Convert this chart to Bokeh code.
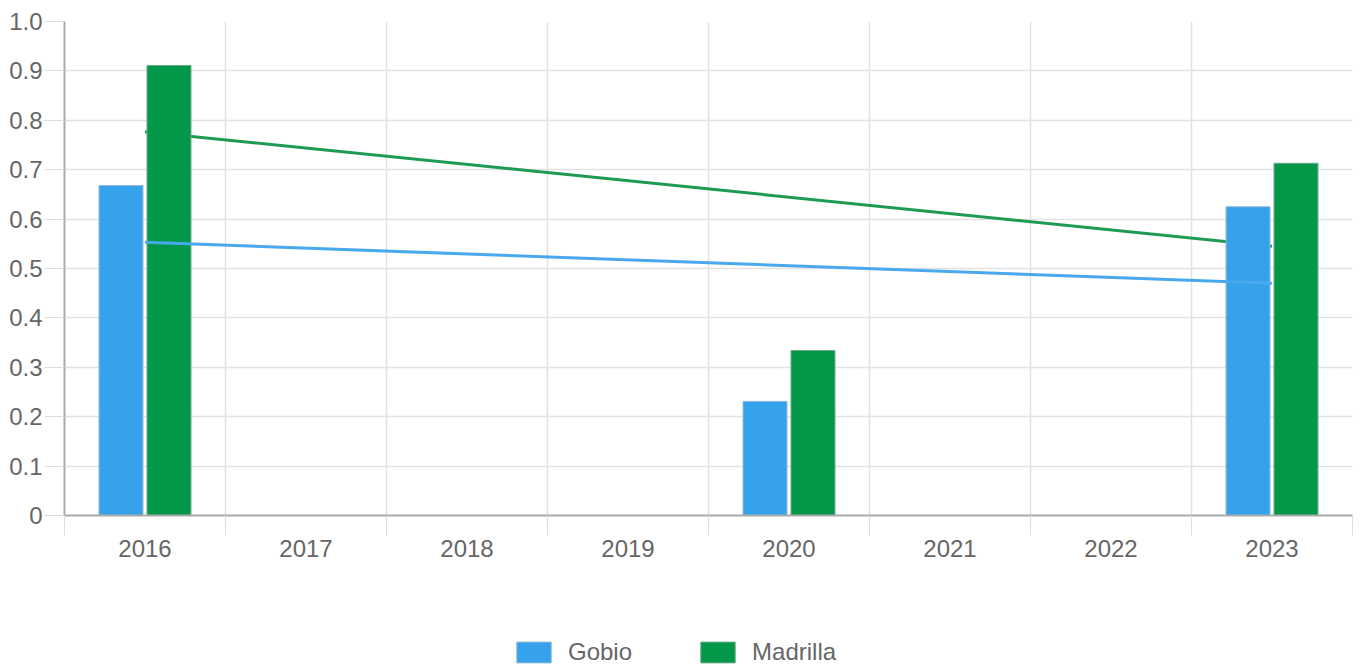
from bokeh.plotting import figure
from bokeh.layouts import column
from bokeh.models import FixedTicker, Legend, LegendItem, Range1d
from bokeh.embed import file_html
from bokeh.resources import INLINE

years = [2016, 2017, 2018, 2019, 2020, 2021, 2022, 2023]
bar_years = [2016, 2020, 2023]
gobio = [0.668, 0.231, 0.625]
madrilla = [0.911, 0.334, 0.713]
trend_years = [2016, 2023]
gobio_trend = [0.553, 0.470]
madrilla_trend = [0.777, 0.545]
y_ticks = [0, 0.1, 0.2, 0.3, 0.4, 0.5, 0.6, 0.7, 0.8, 0.9, 1.0]
y_tick_labels = ["0", "0.1", "0.2", "0.3", "0.4", "0.5", "0.6", "0.7", "0.8", "0.9", "1.0"]

BLUE = "#36a2eb"
GREEN = "#03974a"
FONT = "Liberation Sans"
TXT = "#666666"

p = figure(frame_width=1288, frame_height=494, output_backend="svg", toolbar_location=None,
           x_range=Range1d(years[0] - 0.5, years[-1] + 0.5), y_range=Range1d(0, 1.0),
           min_border_left=64, min_border_top=21, min_border_right=4, min_border_bottom=100)
p.outline_line_color = None

off = 0.149
bw = 0.273
gx = [y - off for y in bar_years]
mx = [y + off for y in bar_years]

p.line(trend_years, madrilla_trend, line_color="#1e9b52", line_width=3)
p.vbar(x=gx, top=gobio, width=bw, fill_color=BLUE, line_color="#8fb9d6", line_width=1)
p.vbar(x=mx, top=madrilla, width=bw, fill_color=GREEN, line_color="#6aa985", line_width=1)
p.line(trend_years, gobio_trend, line_color="#4aa9ee", line_width=3)

# axes
bounds = [y - 0.5 for y in years] + [years[-1] + 0.5]
p.xaxis.ticker = FixedTicker(ticks=years, minor_ticks=bounds)
p.xaxis.major_tick_out = 0
p.xaxis.major_tick_in = 0
p.xaxis.minor_tick_out = 20
p.xaxis.minor_tick_in = 0
p.xaxis.minor_tick_line_color = "#dddddd"
p.xaxis.major_label_standoff = 4
p.xgrid.ticker = FixedTicker(ticks=bounds)

p.yaxis.ticker = FixedTicker(ticks=y_ticks)
p.yaxis.major_label_overrides = dict(zip(y_ticks, y_tick_labels))
p.yaxis.major_tick_out = 20
p.yaxis.major_tick_in = 0
p.yaxis.minor_tick_line_color = None
p.yaxis.major_tick_line_color = "#dddddd"
p.yaxis.major_label_standoff = 2

for ax in (p.xaxis, p.yaxis):
    ax.axis_line_color = "#aaaaaa"
    ax.axis_line_width = 2
    ax.major_label_text_font = FONT
    ax.major_label_text_font_size = "24px"
    ax.major_label_text_color = TXT

p.xgrid.grid_line_color = "#e2e2e2"
p.ygrid.grid_line_color = "#e2e2e2"
p.xgrid.grid_line_width = 1.5
p.ygrid.grid_line_width = 1.5

# legend strip below the chart (its swatch glyphs lie below the strip's visible range)
lf = figure(width=1356, height=53, output_backend="svg", toolbar_location=None,
            x_axis_type=None, y_axis_type=None,
            x_range=Range1d(years[0] - 0.5, years[-1] + 0.5), y_range=Range1d(5, 6),
            min_border=0)
lf.outline_line_color = None
lf.xgrid.visible = False
lf.ygrid.visible = False
lg = lf.vbar(x=bar_years[:1], top=gobio[:1], width=0.2, fill_color=BLUE,
             line_color="#8fb9d6", line_width=1)
lm = lf.vbar(x=bar_years[:1], top=madrilla[:1], width=0.2, fill_color=GREEN,
             line_color="#6aa985", line_width=1)

legend = Legend(items=[LegendItem(label="Gobio", renderers=[lg]),
                       LegendItem(label="Madrilla", renderers=[lm])],
                orientation="horizontal", location=(448, 2),
                glyph_width=43, glyph_height=26, label_standoff=13, spacing=64,
                label_text_font=FONT, label_text_font_size="24px", label_text_color=TXT,
                border_line_color=None, background_fill_alpha=0, margin=0, padding=0)
lf.add_layout(legend, "center")

layout = column(p, lf, spacing=0)
open("out.html", "w").write(file_html(layout, INLINE))
